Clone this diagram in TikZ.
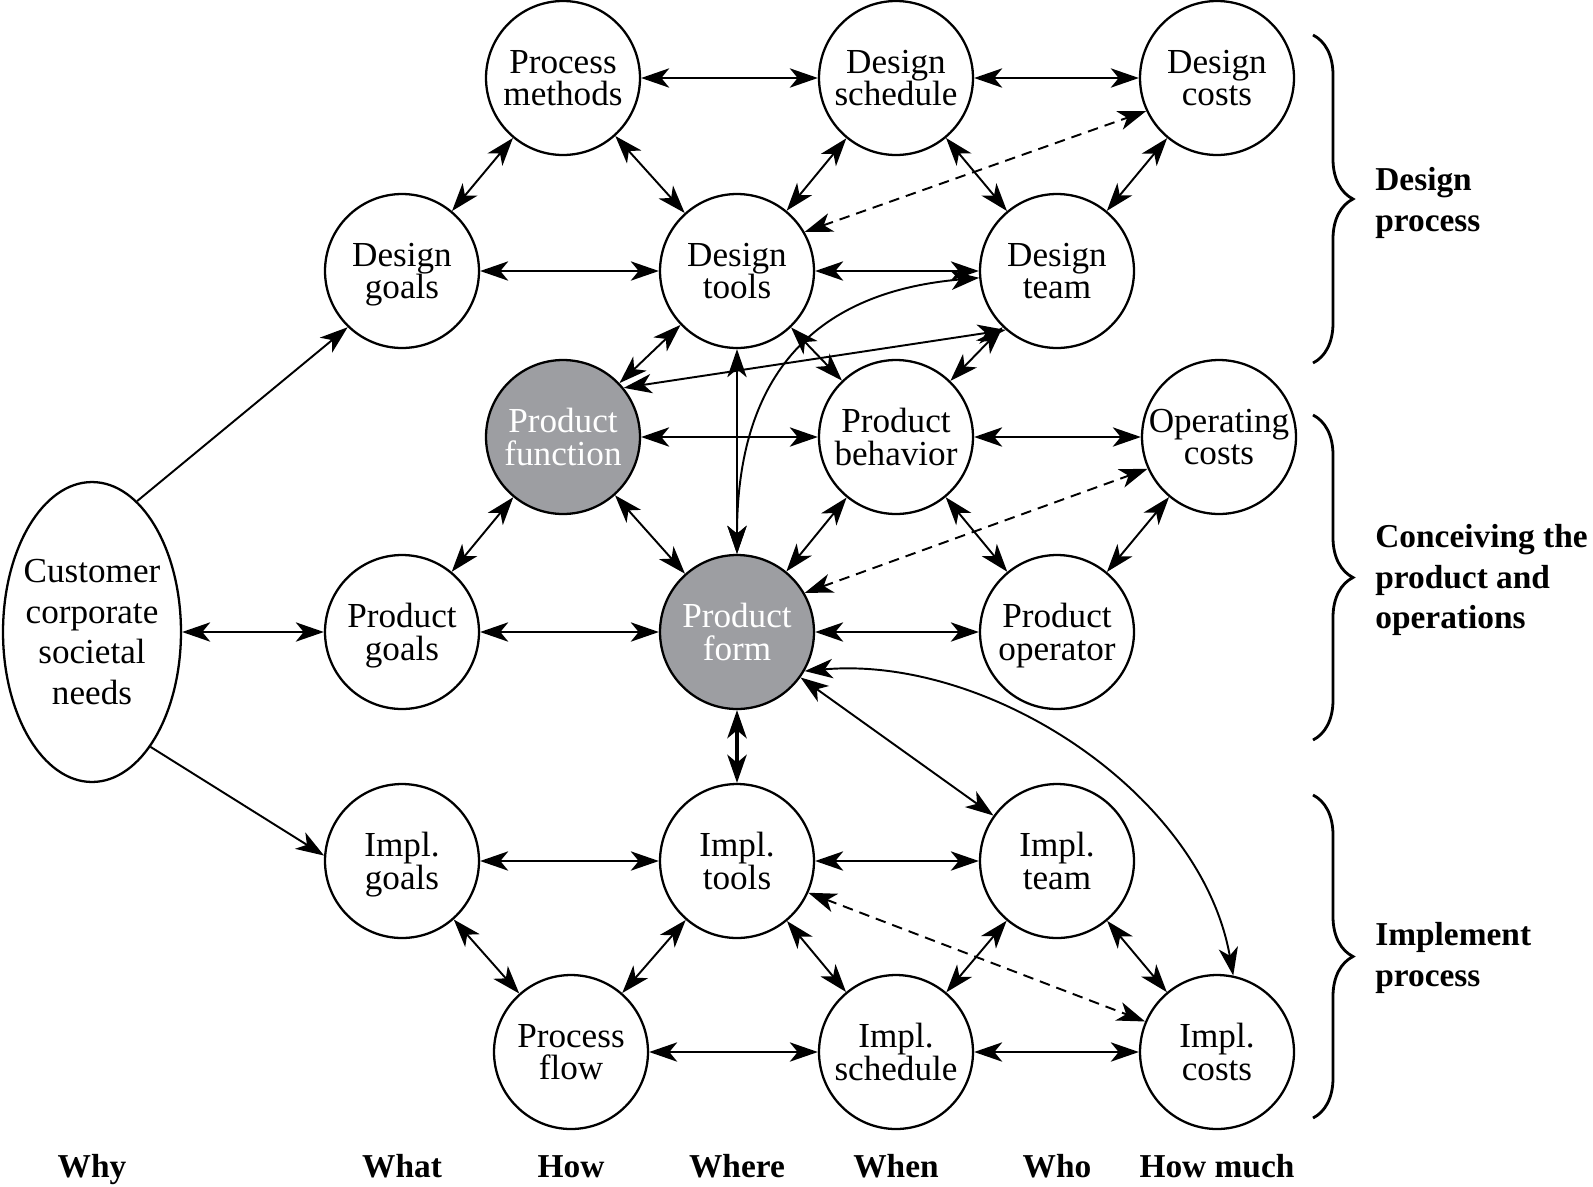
\documentclass[tikz,border=0pt]{standalone}
\usepackage{fontspec}
\setmainfont{Liberation Serif}
\usetikzlibrary{arrows.meta, shapes.geometric, decorations.pathreplacing}
\definecolor{formgray}{RGB}{157,158,162}

\begin{document}
\begin{tikzpicture}[
    x=0.02cm, y=0.02cm,
    font=\fontsize{20}{18.5}\selectfont,
    item/.style={circle, draw, line width=1.3pt, minimum size=3.08cm, inner sep=0pt, align=center, fill=white, text depth=0pt},
    core/.style={item, fill=formgray, text=white},
    need/.style={ellipse, draw, line width=1.3pt, minimum width=3.56cm, minimum height=6cm, inner xsep=-3.5pt, inner ysep=0pt, align=center, font=\fontsize{20}{23}\selectfont},
    group/.style={anchor=west, align=left, inner sep=0pt, font=\bfseries\fontsize{19}{23}\selectfont},
    column/.style={anchor=base, font=\bfseries\fontsize{19}{23}\selectfont},
    link/.style={<->, >={Stealth[length=16pt, width=11pt, inset=4.5pt]}, line width=1.1pt},
    feed/.style={link, ->},
    brace/.style={decorate, decoration={brace, amplitude=0.8cm}, line width=1.6pt}
]
\useasboundingbox (0,0) rectangle (1593,-1187);

% Design process
\node[item] (pm) at (563,-78) {Process\\methods};
\node[item] (ds) at (896,-78) {Design\\schedule};
\node[item] (dc) at (1217,-78) {Design\\costs};
\node[item] (dg) at (402,-271) {Design\\goals};
\node[item] (dt) at (737,-271) {Design\\tools};
\node[item] (dteam) at (1057,-271) {Design\\team};

% Conceiving the product
\node[core] (pf) at (563,-437) {Product\\function};
\node[item] (pb) at (896,-437) {Product\\behavior};
\node[item] (oc) at (1219,-437) {Operating\\costs};
\node[need] (needs) at (92,-632) {Customer\\corporate\\societal\\needs};
\node[item] (pg) at (402,-632) {Product\\goals};
\node[core] (pform) at (737,-632) {Product\\form};
\node[item] (po) at (1057,-632) {Product\\operator};

% Implement process
\node[item] (ig) at (402,-861) {Impl.\\goals};
\node[item] (it) at (737,-861) {Impl.\\tools};
\node[item] (iteam) at (1057,-861) {Impl.\\team};
\node[item] (pflow) at (571,-1052) {Process\\flow};
\node[item] (is) at (896,-1052) {Impl.\\schedule};
\node[item] (ic) at (1217,-1052) {Impl.\\costs};

% Column labels
\node[column] (why) at (92,-1177) {Why};
\node[column] (what) at (402,-1177) {What};
\node[column] (how) at (571,-1177) {How};
\node[column] (where) at (737,-1177) {Where};
\node[column] (when) at (896,-1177) {When};
\node[column] (who) at (1057,-1177) {Who};
\node[column] (howmuch) at (1217,-1177) {How much};

% Braces and group labels
\draw[brace] (1313,-35) -- (1313,-363);
\draw[brace] (1313,-415) -- (1313,-740);
\draw[brace] (1313,-795) -- (1313,-1118);
\node[group] (gdesign) at (1375,-203) {Design\\process};
\node[group] (gconceive) at (1375,-580) {Conceiving the\\product and\\operations};
\node[group] (gimpl) at (1375,-958) {Implement\\process};

% Design arrows
\draw[link] (pm) -- (ds);
\draw[link] (ds) -- (dc);
\draw[link] (pm) -- (dg);
\draw[link] (pm) -- (dt);
\draw[link] (ds) -- (dt);
\draw[link] (ds) -- (dteam);
\draw[link] (dc) -- (dteam);
\draw[link, dashed, dash pattern=on 6pt off 4pt] (dt.30) -- (dc.205);
\draw[link] (dg) -- (dt);
\draw[link] (dt) -- (dteam);
\draw[link] (dt) -- (pf);
\draw[link] (dt) -- (pb);
\draw[link] (dt) -- (pform);
\draw[link] (dteam) -- (pb);
\draw[link] (pf.39) -- (dteam.229);
\draw[link] (pform.north) to[out=90, in=185, looseness=1.2] (dteam.185);

% Product arrows
\draw[link] (pf) -- (pb);
\draw[link] (pb) -- (oc);
\draw[link] (pf) -- (pg);
\draw[link] (pf) -- (pform);
\draw[link] (pb) -- (pform);
\draw[link] (pb) -- (po);
\draw[link] (oc) -- (po);
\draw[link, dashed, dash pattern=on 6pt off 4pt] (pform.30) -- (oc.204);
\draw[link] (needs) -- (pg);
\draw[feed] (needs.71) -- (dg.226);
\draw[feed] (needs.-63) -- (ig.176);
\draw[link] (pg) -- (pform);
\draw[link] (pform) -- (po);
\draw[link, line width=2pt] (pform) -- (it);
\draw[link] (pform) -- (iteam);
\draw[link] (pform.-30) to[out=5, in=100, looseness=0.9] (ic.78);

% Implement arrows
\draw[link] (ig) -- (it);
\draw[link] (it) -- (iteam);
\draw[link] (ig) -- (pflow);
\draw[link] (it) -- (pflow);
\draw[link] (it) -- (is);
\draw[link] (iteam) -- (is);
\draw[link] (iteam) -- (ic);
\draw[link, dashed, dash pattern=on 6pt off 4pt] (it.-24) -- (ic.157);
\draw[link] (pflow) -- (is);
\draw[link] (is) -- (ic);

\end{tikzpicture}
\end{document}
